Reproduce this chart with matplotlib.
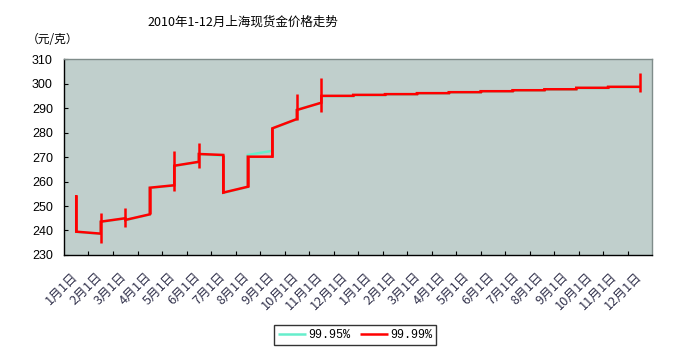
import matplotlib
matplotlib.use("Agg")
import matplotlib.pyplot as plt
import matplotlib.transforms as mtransforms
import numpy as np

# x positions of the plotted points, in category units (axis spans 0..24)
positions = [0.5, 1.5, 2.5, 3.5, 4.5, 5.5, 6.5, 7.5, 8.5, 9.5, 10.5,
             11.8, 13.1, 14.4, 15.7, 17.0, 18.3, 19.6, 20.9, 22.2, 23.5]

# 99.99% gold: value entering / leaving each point, and the range inside it
open_9999 = [254.5, 238.7, 245.0, 246.6, 258.5, 268.1, 270.9, 257.9, 270.2, 285.6, 292.3,
             295.1, 295.5, 295.8, 296.2, 296.6, 297.0, 297.4, 297.8, 298.4, 298.8]
close_9999 = [239.5, 243.6, 244.3, 257.5, 266.5, 271.3, 255.5, 270.2, 281.8, 289.3, 295.1,
              295.5, 295.8, 296.2, 296.6, 297.0, 297.4, 297.8, 298.4, 298.8, 298.8]
high_9999 = [254.5, 247.0, 249.1, 257.5, 272.5, 275.7, 270.9, 270.2, 281.8, 295.8, 302.6,
             295.5, 295.8, 296.2, 296.6, 297.0, 297.4, 297.8, 298.4, 298.8, 304.3]
low_9999 = [239.5, 234.8, 241.6, 246.6, 256.3, 265.4, 255.5, 257.9, 270.2, 285.2, 288.6,
            295.1, 295.5, 295.8, 296.2, 296.6, 297.0, 297.4, 297.8, 298.4, 296.8]

# 99.95% gold (mostly hidden under the 99.99% line)
open_9995 = [254.3, 238.6, 244.9, 246.5, 258.4, 268.0, 270.6, 257.8, 272.6, 285.5, 292.2,
             295.0, 295.4, 295.7, 296.1, 296.5, 296.9, 297.3, 297.7, 298.3, 298.7]
close_9995 = [239.4, 243.5, 244.2, 257.4, 266.4, 271.2, 255.4, 270.9, 281.7, 289.5, 295.0,
              295.4, 295.7, 296.1, 296.5, 296.9, 297.3, 297.7, 298.3, 298.7, 298.7]

month_labels = ["1月1日", "2月1日", "3月1日", "4月1日", "5月1日", "6月1日",
                "7月1日", "8月1日", "9月1日", "10月1日", "11月1日", "12月1日"]
x_labels = month_labels + month_labels

y_ticks = [230, 240, 250, 260, 270, 280, 290, 300, 310]

CJK = ["Noto Sans CJK SC", "DejaVu Sans"]


def build_path(pos, opens, closes):
    xs = np.repeat(pos, 2)
    ys = np.ravel(np.column_stack([opens, closes]))
    return xs, ys


fig = plt.figure(figsize=(6.88, 3.56), dpi=100)
ax = fig.add_axes([0.093, 0.284, 0.855, 0.549])
ax.set_facecolor("#c0cfcc")

xs, ys = build_path(positions, open_9995, close_9995)
ax.plot(xs, ys, color="#66eecc", lw=1.8, solid_capstyle="butt",
        solid_joinstyle="miter", label="99.95%", zorder=2)

xs, ys = build_path(positions, open_9999, close_9999)
ax.plot(xs, ys, color="#ff0000", lw=1.8, solid_capstyle="butt",
        solid_joinstyle="miter", label="99.99%", zorder=3)
ax.vlines(positions, low_9999, high_9999, color="#ff0000", lw=1.8, zorder=3)

ax.set_xlim(0, len(x_labels))
ax.set_ylim(230, 310)

ax.set_yticks(y_ticks)
ax.set_yticklabels([str(v) for v in y_ticks], family="Liberation Sans", fontsize=9)
ax.tick_params(axis="y", direction="in", length=3, width=0.8, pad=8)

ax.set_xticks(np.arange(len(x_labels)) + 0.5)
ax.set_xticklabels(x_labels, family=CJK, fontsize=9.2, color="#33334d",
                   rotation=45, ha="right", va="top", rotation_mode="anchor")
ax.tick_params(axis="x", which="major", length=0, pad=11)
ax.set_xticks(np.arange(1, len(x_labels)), minor=True)
ax.tick_params(axis="x", which="minor", direction="in", length=3, width=0.8)

# labels sit a little left of the category centre, as in the source
shift = mtransforms.ScaledTranslation(-5 / 100, 0, fig.dpi_scale_trans)
for label in ax.get_xticklabels():
    label.set_transform(label.get_transform() + shift)

for side in ["left", "bottom"]:
    ax.spines[side].set_color("black")
    ax.spines[side].set_linewidth(1.0)
for side in ["top", "right"]:
    ax.spines[side].set_color("#7f8c8a")
    ax.spines[side].set_linewidth(1.0)

fig.text(0.353, 0.938, "2010年1-12月上海现货金价格走势", family=CJK,
         fontsize=9, ha="center", va="center")
fig.text(0.076, 0.888, "（元/克）", family=CJK, fontsize=8.5,
         ha="center", va="center")

leg = fig.legend(loc="center", bbox_to_anchor=(0.516, 0.059), ncol=2,
                 frameon=True, fancybox=False, shadow=False,
                 prop={"family": "Liberation Mono", "size": 8.5},
                 handlelength=2.4, handletextpad=0.2, columnspacing=0.8,
                 borderpad=0.3)
leg.get_frame().set_edgecolor("black")
leg.get_frame().set_linewidth(1.0)

fig.savefig("out.png", dpi=100)
